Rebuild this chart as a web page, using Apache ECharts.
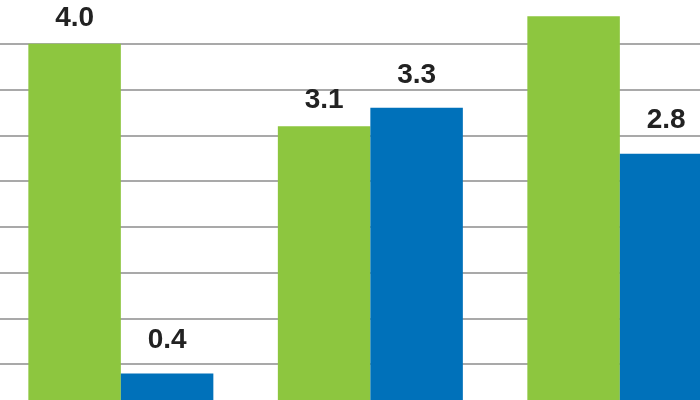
<!DOCTYPE html>
<html>
<head>
<meta charset="utf-8">
<script src="https://cdn.jsdelivr.net/npm/echarts@6/dist/echarts.min.js"></script>
<style>
html,body{margin:0;padding:0;background:#fff;}
#chart{width:700px;height:400px;}
</style>
</head>
<body>
<div id="chart"></div>
<script>
var categories = ['A', 'B', 'C'];
var greenValues = [4.0, 3.1, 4.3];
var blueValues = [0.4, 3.3, 2.8];
var yTicks = { min: 0, max: 4.5, interval: 0.5 };

var chart = echarts.init(document.getElementById('chart'), null, { renderer: 'canvas' });
var labelStyle = {
  show: true,
  position: 'top',
  fontFamily: 'Liberation Sans, Arial, sans-serif',
  fontWeight: 'bold',
  fontSize: 28,
  color: '#222222',
  formatter: function (p) { return p.value.toFixed(1); }
};
chart.setOption({
  animation: false,
  backgroundColor: '#ffffff',
  grid: { left: -3.9, top: -2, width: 748.5, height: 412, containLabel: false, outerBoundsMode: 'none' },
  xAxis: {
    type: 'category',
    data: categories,
    axisLine: { show: false },
    axisTick: { show: false },
    axisLabel: { show: false }
  },
  yAxis: {
    type: 'value',
    min: yTicks.min,
    max: yTicks.max,
    interval: yTicks.interval,
    axisLine: { show: false },
    axisTick: { show: false },
    axisLabel: { show: false },
    splitLine: { lineStyle: { color: '#8c8c8c', width: 1.5 } }
  },
  series: [
    {
      type: 'bar',
      data: greenValues,
      barWidth: 92.5,
      barGap: '0%',
      itemStyle: { color: '#8DC63F' },
      label: Object.assign({}, labelStyle, { distance: 11.5 })
    },
    {
      type: 'bar',
      data: blueValues,
      barWidth: 92.5,
      barGap: '0%',
      itemStyle: { color: '#0071BA' },
      label: Object.assign({}, labelStyle, { distance: 19 })
    }
  ]
});
</script>
</body>
</html>
